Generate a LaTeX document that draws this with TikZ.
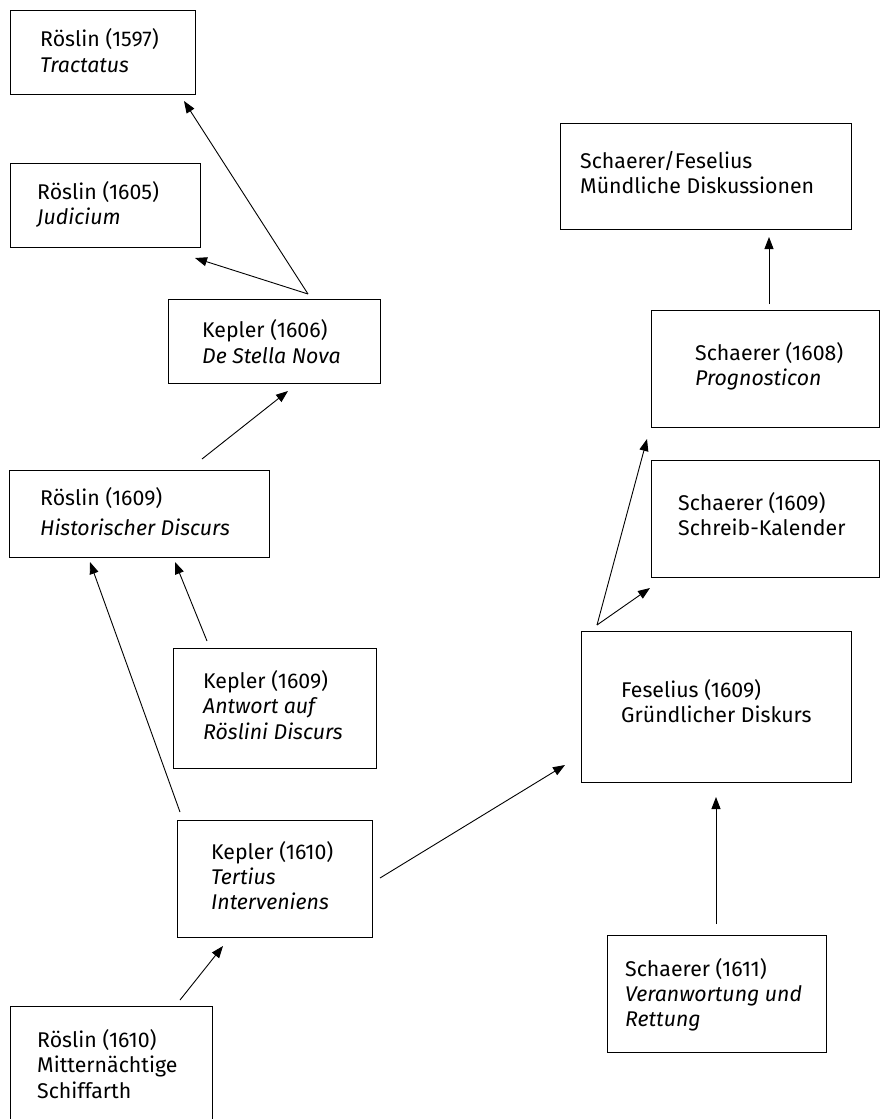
\documentclass[tikz,border=0pt]{standalone}
\usepackage{fontspec}
\setmainfont{Fira Sans}
\usetikzlibrary{arrows.meta}
\begin{document}
\begin{tikzpicture}[x=1pt,y=-1pt,
  box/.style={draw, line width=1pt, inner sep=0pt, anchor=north west, rectangle},
  lbl/.style={anchor=base west, inner sep=0pt, font=\fontsize{21.3}{25}\selectfont},
  arr/.style={-{Triangle[length=12pt,width=9pt]}, line width=0.9pt}]
\useasboundingbox (0,0) rectangle (880,1119);

% boxes
\node[box, minimum width=185pt, minimum height=84pt]  (b1)  at (10,10) {};
\node[box, minimum width=190pt, minimum height=84pt]  (b2)  at (10,163) {};
\node[box, minimum width=212pt, minimum height=84pt]  (b3)  at (168,299) {};
\node[box, minimum width=260pt, minimum height=87pt]  (b4)  at (9,470) {};
\node[box, minimum width=203pt, minimum height=120pt] (b5)  at (173,648) {};
\node[box, minimum width=195pt, minimum height=117pt] (b6)  at (177,820) {};
\node[box, minimum width=202pt, minimum height=118pt] (b7)  at (10,1006) {};
\node[box, minimum width=291pt, minimum height=106pt] (b8)  at (560,123) {};
\node[box, minimum width=228pt, minimum height=117pt] (b9)  at (651,310) {};
\node[box, minimum width=228pt, minimum height=117pt] (b10) at (651,460) {};
\node[box, minimum width=270pt, minimum height=151pt] (b11) at (581,631) {};
\node[box, minimum width=219pt, minimum height=117pt] (b12) at (607,935) {};

% texts
\node[lbl] (t1a) at (40,46) {Röslin (1597)};
\node[lbl] (t1b) at (40,72) {\itshape Tractatus};
\node[lbl] (t2a) at (37,199) {Röslin (1605)};
\node[lbl] (t2b) at (37,224) {\itshape Judicium};
\node[lbl] (t3a) at (202,337) {Kepler (1606)};
\node[lbl] (t3b) at (202,363) {\itshape De Stella Nova};
\node[lbl] (t4a) at (40,505) {Röslin (1609)};
\node[lbl] (t4b) at (40,535) {\itshape Historischer Discurs};
\node[lbl] (t5a) at (203,688) {Kepler (1609)};
\node[lbl] (t5b) at (203,713) {\itshape Antwort auf};
\node[lbl] (t5c) at (203,739) {\itshape Röslini Discurs};
\node[lbl] (t6a) at (211,859) {Kepler (1610)};
\node[lbl] (t6b) at (211,884) {\itshape Tertius};
\node[lbl] (t6c) at (211,909) {\itshape Interveniens};
\node[lbl] (t7a) at (37,1047) {Röslin (1610)};
\node[lbl] (t7b) at (37,1072) {Mitternächtige};
\node[lbl] (t7c) at (37,1098) {Schiffarth};
\node[lbl] (t8a) at (580,168) {Schaerer/Feselius};
\node[lbl] (t8b) at (580,193) {Mündliche Diskussionen};
\node[lbl] (t9a) at (695,360) {Schaerer (1608)};
\node[lbl] (t9b) at (695,385) {\itshape Prognosticon};
\node[lbl] (t10a) at (678,510) {Schaerer (1609)};
\node[lbl] (t10b) at (678,535) {Schreib-Kalender};
\node[lbl] (t11a) at (621,697) {Feselius (1609)};
\node[lbl] (t11b) at (621,722) {Gründlicher Diskurs};
\node[lbl] (t12a) at (625,976) {Schaerer (1611)};
\node[lbl] (t12b) at (625,1001) {\itshape Veranwortung und};
\node[lbl] (t12c) at (625,1026) {\itshape Rettung};

% connector ends
\coordinate (k6top) at (308,294);
\coordinate (p1) at (184,101);
\coordinate (p2) at (195,258);
\coordinate (r9top) at (202,459);
\coordinate (p3) at (288,391);
\coordinate (k9top) at (207,641);
\coordinate (p4a) at (175,562);
\coordinate (k10top) at (180,812);
\coordinate (p4b) at (90,562);
\coordinate (r10top) at (180,1000);
\coordinate (p6) at (223,946);
\coordinate (k10right) at (380,878);
\coordinate (p11) at (565,765);
\coordinate (f9top) at (597,625);
\coordinate (p9) at (647,439);
\coordinate (p10) at (650,588);
\coordinate (s8top) at (769,304);
\coordinate (p8) at (769,237);
\coordinate (s11top) at (716,924);
\coordinate (p11b) at (716,797);

% connectors
\draw[arr] (k6top) -- (p1);
\draw[arr] (k6top) -- (p2);
\draw[arr] (r9top) -- (p3);
\draw[arr] (k9top) -- (p4a);
\draw[arr] (k10top) -- (p4b);
\draw[arr] (r10top) -- (p6);
\draw[arr] (k10right) -- (p11);
\draw[arr] (f9top) -- (p9);
\draw[arr] (f9top) -- (p10);
\draw[arr] (s8top) -- (p8);
\draw[arr] (s11top) -- (p11b);
\end{tikzpicture}
\end{document}
